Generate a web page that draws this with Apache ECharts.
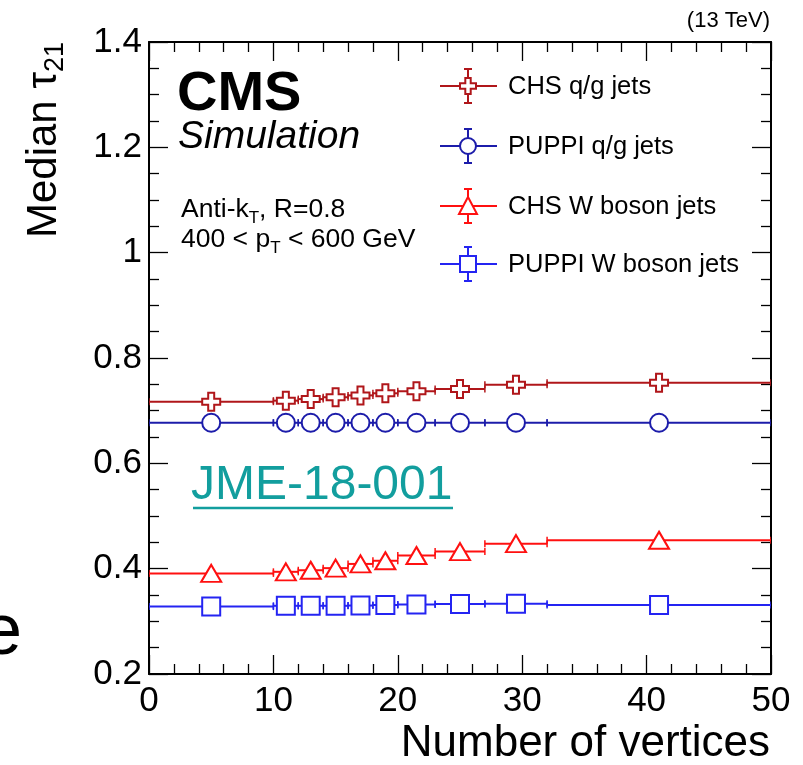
<!DOCTYPE html>
<html>
<head>
<meta charset="utf-8">
<script src="https://cdn.jsdelivr.net/npm/echarts@6/dist/echarts.min.js"></script>
<style>
html,body{margin:0;padding:0;background:#fff;}
#chart{width:803px;height:765px;}
</style>
</head>
<body>
<div id="chart"></div>
<script>
// ---- data ----
const binEdges   = [0, 10, 12, 14, 16, 18, 20, 23, 27, 32, 50];
const binCenters = [5, 11, 13, 15, 17, 19, 21.5, 25, 29.5, 41];
const chsQG   = [0.717, 0.719, 0.722, 0.7255, 0.729, 0.733, 0.737, 0.741, 0.749, 0.753];
const puppiQG = [0.677, 0.677, 0.677, 0.677, 0.677, 0.677, 0.677, 0.677, 0.677, 0.677];
const chsW    = [0.391, 0.394, 0.397, 0.401, 0.409, 0.415, 0.425, 0.4325, 0.4475, 0.454];
const puppiW  = [0.328, 0.3295, 0.3295, 0.3295, 0.330, 0.331, 0.332, 0.333, 0.3335, 0.331];
const seriesNames = ['CHS q/g jets', 'PUPPI q/g jets', 'CHS W boson jets', 'PUPPI W boson jets'];
const xRange = [0, 50];
const yRange = [0.2, 1.4];

const FONT = "'Liberation Sans', Arial, Helvetica, sans-serif";
const colors  = ['#b0161a', '#1c1caa', '#ff1010', '#2424f2'];
const crossPath = 'path://M1,0L2,0L2,1L3,1L3,2L2,2L2,3L1,3L1,2L0,2L0,1L1,1Z';
const symbols = [crossPath, 'circle', 'triangle', 'rect'];
const symSizes = [[18,18],[18,18],[20,17],[18,18]];
const allValues = [chsQG, puppiQG, chsW, puppiW];

function binData(vals){
  return vals.map((v,i)=>[binEdges[i], binEdges[i+1], binCenters[i], v]);
}
function makeRender(color){
  return function(params, api){
    const y = api.value(3);
    const p1 = api.coord([api.value(0), y]);
    const p2 = api.coord([api.value(1), y]);
    const st = {stroke: color, lineWidth: 2};
    const cs = {stroke: color, lineWidth: 1.5};
    return {type:'group', children:[
      {type:'line', shape:{x1:p1[0],y1:p1[1],x2:p2[0],y2:p2[1]}, style:st},
      {type:'line', shape:{x1:p1[0],y1:p1[1]-3.5,x2:p1[0],y2:p1[1]+3.5}, style:cs},
      {type:'line', shape:{x1:p2[0],y1:p2[1]-3.5,x2:p2[0],y2:p2[1]+3.5}, style:cs}
    ]};
  };
}

const series = [];
allValues.forEach((vals, k)=>{
  series.push({
    type:'custom', name: seriesNames[k], renderItem: makeRender(colors[k]),
    data: binData(vals), encode:{x:[0,1,2], y:3}, clip:true, z:2, silent:true
  });
});
allValues.forEach((vals, k)=>{
  series.push({
    type:'scatter', name: seriesNames[k], symbol: symbols[k], symbolSize: symSizes[k],
    data: vals.map((v,i)=>[binCenters[i], v]),
    itemStyle:{color:'#fff', borderColor: colors[k], borderWidth:2, opacity:1},
    z:3, silent:true, animation:false
  });
});

// ---- legend drawn as graphics ----
const legRows = [86, 146, 206, 264];
const legGraphics = [];
function markerShape(k, cx, cy, color){
  const s = {fill:'#fff', stroke: color, lineWidth: 2};
  const h = 8;
  if (k === 0) {
    const b = h, t = 2.7;
    return {type:'polygon', shape:{points:[
      [cx-t,cy-b],[cx+t,cy-b],[cx+t,cy-t],[cx+b,cy-t],[cx+b,cy+t],[cx+t,cy+t],
      [cx+t,cy+b],[cx-t,cy+b],[cx-t,cy+t],[cx-b,cy+t],[cx-b,cy-t],[cx-t,cy-t]]}, style:s, z:20};
  }
  if (k === 1) return {type:'circle', shape:{cx:cx, cy:cy, r:h}, style:s, z:20};
  if (k === 2) return {type:'polygon', shape:{points:[[cx,cy-h-1],[cx+h+1,cy+h],[cx-h-1,cy+h]]}, style:s, z:20};
  return {type:'rect', shape:{x:cx-h, y:cy-h, width:2*h, height:2*h}, style:s, z:20};
}
seriesNames.forEach((name, k)=>{
  const y = legRows[k], cx = 468, c = colors[k];
  legGraphics.push({type:'line', shape:{x1:440,y1:y,x2:497,y2:y}, style:{stroke:c, lineWidth:2}, z:19});
  legGraphics.push({type:'line', shape:{x1:cx,y1:y-17,x2:cx,y2:y+17}, style:{stroke:c, lineWidth:2}, z:19});
  legGraphics.push({type:'line', shape:{x1:cx-4,y1:y-17,x2:cx+4,y2:y-17}, style:{stroke:c, lineWidth:2}, z:19});
  legGraphics.push({type:'line', shape:{x1:cx-4,y1:y+17,x2:cx+4,y2:y+17}, style:{stroke:c, lineWidth:2}, z:19});
  legGraphics.push(markerShape(k, cx, y, c));
  legGraphics.push({type:'text', left:508, top:y-12, style:{text:name, font:'25.5px '+FONT, fill:'#000'}, z:20});
});

const richSmall = {
  n:{fontSize:26.5, fontFamily:FONT, lineHeight:34, verticalAlign:'middle', fill:'#000'},
  s:{fontSize:17, fontFamily:FONT, lineHeight:15, verticalAlign:'bottom', fill:'#000'}
};
const textGraphics = [
  {type:'text', right:33, top:10, style:{text:'(13 TeV)', font:'22px '+FONT, fill:'#000'}},
  {type:'text', left:177, top:67, style:{text:'CMS', font:'bold 56px '+FONT, fill:'#000'}},
  {type:'text', left:178, top:118, style:{text:'Simulation', font:'italic 39px '+FONT, fill:'#000'}},
  {type:'text', left:181, top:196, style:{text:'{n|Anti-k}{s|T}{n|, R=0.8}', rich:richSmall}},
  {type:'text', left:181, top:226, style:{text:'{n|400 < p}{s|T}{n| < 600 GeV}', rich:richSmall}},
  {type:'text', left:191, top:462, style:{text:'JME-18-001', font:'48px '+FONT, fill:'#129e9e'}},
  {type:'line', shape:{x1:193, y1:508, x2:453, y2:508}, style:{stroke:'#129e9e', lineWidth:2.5}},
  {type:'text', right:33, top:722, style:{text:'Number of vertices', font:'44px '+FONT, fill:'#000'}},
  {type:'text', x:44, y:140, rotation:Math.PI/2, style:{
    text:'{n|Median τ}{s|21}', align:'center', verticalAlign:'middle',
    rich:{n:{fontSize:42, fontFamily:FONT, lineHeight:50, verticalAlign:'middle', fill:'#000'},
          s:{fontSize:27, fontFamily:FONT, lineHeight:24, verticalAlign:'bottom', fill:'#000'}}}},
  {type:'text', x:22, y:634, style:{text:'e', font:'72px '+FONT, fill:'#000', align:'right', verticalAlign:'middle'}}
];

const axisLineStyle = {color:'#000', width:2};
const tickStyle = {color:'#000', width:1.3};
const chart = echarts.init(document.getElementById('chart'), null, {renderer:'canvas'});
chart.setOption({
  animation:false,
  backgroundColor:'#fff',
  grid:{left:149, right:32, top:42, bottom:91, containLabel:false},
  xAxis:[
    {type:'value', min:xRange[0], max:xRange[1], interval:10, position:'bottom',
     axisLine:{show:true, onZero:false, lineStyle:axisLineStyle},
     axisTick:{show:true, inside:true, length:19, lineStyle:tickStyle},
     minorTick:{show:true, splitNumber:5, length:10, lineStyle:tickStyle},
     axisLabel:{fontSize:35, fontFamily:FONT, color:'#000', margin:10},
     splitLine:{show:false}, minorSplitLine:{show:false}},
    {type:'value', min:xRange[0], max:xRange[1], interval:10, position:'top',
     axisLine:{show:true, onZero:false, lineStyle:axisLineStyle},
     axisTick:{show:true, inside:true, length:19, lineStyle:tickStyle},
     minorTick:{show:true, splitNumber:5, length:10, lineStyle:tickStyle},
     axisLabel:{show:false}, splitLine:{show:false}}
  ],
  yAxis:[
    {type:'value', min:yRange[0], max:yRange[1], interval:0.2, position:'left',
     axisLine:{show:true, onZero:false, lineStyle:axisLineStyle},
     axisTick:{show:true, inside:true, length:19, lineStyle:tickStyle},
     minorTick:{show:true, splitNumber:4, length:10, lineStyle:tickStyle},
     axisLabel:{fontSize:35, fontFamily:FONT, color:'#000', margin:7,
       formatter: v => String(Math.round(v*10)/10)},
     splitLine:{show:false}},
    {type:'value', min:yRange[0], max:yRange[1], interval:0.2, position:'right',
     axisLine:{show:true, onZero:false, lineStyle:axisLineStyle},
     axisTick:{show:true, inside:true, length:19, lineStyle:tickStyle},
     minorTick:{show:true, splitNumber:4, length:10, lineStyle:tickStyle},
     axisLabel:{show:false}, splitLine:{show:false}}
  ],
  series: series,
  graphic: legGraphics.concat(textGraphics)
});
</script>
</body>
</html>
